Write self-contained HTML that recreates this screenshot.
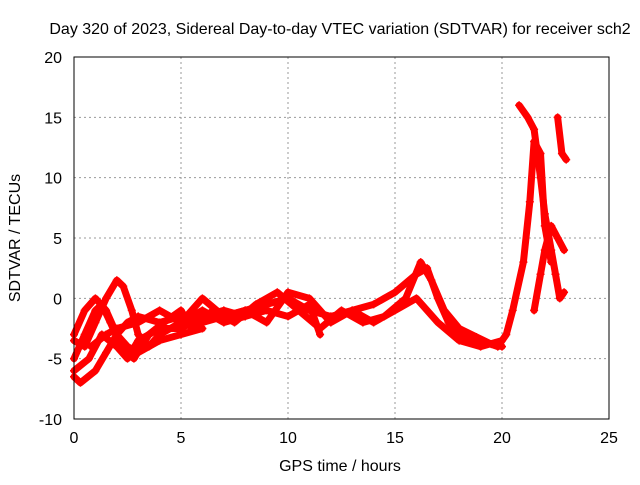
<!DOCTYPE html>
<html><head><meta charset="utf-8"><style>
body{margin:0;background:#fff;}
svg text{font-family:"Liberation Sans",sans-serif;font-size:16px;fill:#000;}
</style></head><body>
<svg id="chart" width="640" height="480" xmlns="http://www.w3.org/2000/svg">
<g id="grid"></g>
<g id="series"></g>
<rect x="74" y="57" width="535" height="362" fill="none" stroke="#000" stroke-width="1"/>
<g id="ticks"></g>
<text x="340" y="34" text-anchor="middle">Day 320 of 2023, Sidereal Day-to-day VTEC variation (SDTVAR) for receiver sch2</text>
<text x="340" y="471" text-anchor="middle">GPS time / hours</text>
<text transform="translate(20,238) rotate(-90)" text-anchor="middle">SDTVAR / TECUs</text>
</svg>
<script>
const xTicks=[0,5,10,15,20,25];
const yTicks=[-10,-5,0,5,10,15,20];
const arcA=[[0,-6.5],[0.3,-7],[1,-6],[1.5,-4.5],[2,-3],[2.5,-2],[3,-1.5],[4,-2],[5,-1.5],[6,-2],[7,-1.5],[8,-1],[9,-0.5],[10,0],[11,-1],[12,-1.5],[13,-1],[14,-0.5],[15,0.5],[16,2],[16.5,2.5],[17,0],[17.5,-2],[18,-3],[19,-3.5],[19.8,-4],[20.2,-3],[20.5,-1],[21,3],[21.3,8],[21.5,13],[21.8,12],[22,6],[22.3,3]];
const arcB=[[20.8,16],[21.2,15],[21.5,14],[21.8,10],[22,7],[22.3,4],[22.5,2],[22.7,0],[22.9,0.5]];
const arcC=[[21.5,-1],[21.8,2],[22,4],[22.3,6],[22.6,5],[22.9,4]];
const arcD=[[22.6,15],[22.8,12],[23,11.5]];
const arcE=[[0,-3.5],[0.5,-4],[1,-2],[1.5,0],[2,1.5],[2.3,1],[2.7,-1],[3,-3],[3.5,-4],[4,-3],[5,-2],[6,-1],[7,-2],[8,-1.5]];
const arcF=[[0,-3],[0.5,-1],[1,0],[1.5,-1],[2,-3],[2.5,-4],[3,-4.5],[4,-3.5],[5,-3],[6,-2.5]];
const arcG=[[0.8,-4],[1.5,-3],[2,-2.5],[3,-2],[4,-1],[5,-2],[6,0],[7,-1.5],[8,-1],[9,-2],[10,0.5],[11,0],[12,-2],[13,-1],[14,-2],[15,-1],[16,0],[17,-2],[18,-3.5],[19,-4],[20,-3.5]];
const arcH=[[0,-5],[0.5,-3],[1,-1],[1.3,-0.5],[1.7,-2],[2.2,-4],[2.8,-5],[3.5,-3],[4.2,-2],[5,-1],[5.5,-2.5],[6.5,-1],[7.5,-2],[8.5,-0.5],[9.5,0.5],[10.5,-1],[11.5,-2.5],[12.5,-1],[13.5,-2],[14.5,-1.5],[15.5,0],[16.2,3],[16.7,1.5],[17.3,-1],[18,-2.5],[18.8,-3.2],[19.5,-3.8],[20,-4]];
const arcI=[[0,-6],[0.7,-5],[1.3,-3],[2,-4],[2.5,-5],[3,-3.5],[4,-2.5],[5,-2.5],[6,-1.5],[7,-1],[8,-1.5],[9,-1],[10,-1.5],[11,-0.5],[11.5,-3]];
const arcs=[arcA,arcB,arcC,arcD,arcE,arcF,arcG,arcH,arcI];
const X=v=>74+v*535/25;
const Y=v=>419-(v+10)*362/30;
const NS='http://www.w3.org/2000/svg';
const grid=document.getElementById('grid'),ticks=document.getElementById('ticks'),ser=document.getElementById('series');
function mk(t,a,p){const e=document.createElementNS(NS,t);for(const k in a)e.setAttribute(k,a[k]);p.appendChild(e);return e;}
xTicks.forEach(t=>{
 if(t>0&&t<25){const l=mk('line',{x1:X(t),x2:X(t),y1:57,y2:419,stroke:'#999','stroke-dasharray':'2,3'},grid);
 
 }
 const tx=mk('text',{x:X(t),y:443,'text-anchor':'middle'},ticks);tx.textContent=t;
 
 
});
yTicks.forEach(t=>{
 if(t>-10&&t<20){const l=mk('line',{x1:74,x2:609,y1:Y(t),y2:Y(t),stroke:'#999','stroke-dasharray':'2,3'},grid);
 
 }
 const tx=mk('text',{x:62,y:Y(t)+6,'text-anchor':'end'},ticks);tx.textContent=t;
 
 
});
arcs.forEach(a=>{
 const p=mk('polyline',{points:a.map(d=>X(d[0])+','+Y(d[1])).join(' '),fill:'none',stroke:'#f00','stroke-width':7,'stroke-linejoin':'round','stroke-linecap':'round'},ser);
 
 
 a.forEach(d=>{const m=mk('path',{d:`M${X(d[0])-4},${Y(d[1])}h8M${X(d[0])},${Y(d[1])-4}v8`,stroke:'#f00','stroke-width':1.5},ser);
 
 });
});
</script>
</body></html>
